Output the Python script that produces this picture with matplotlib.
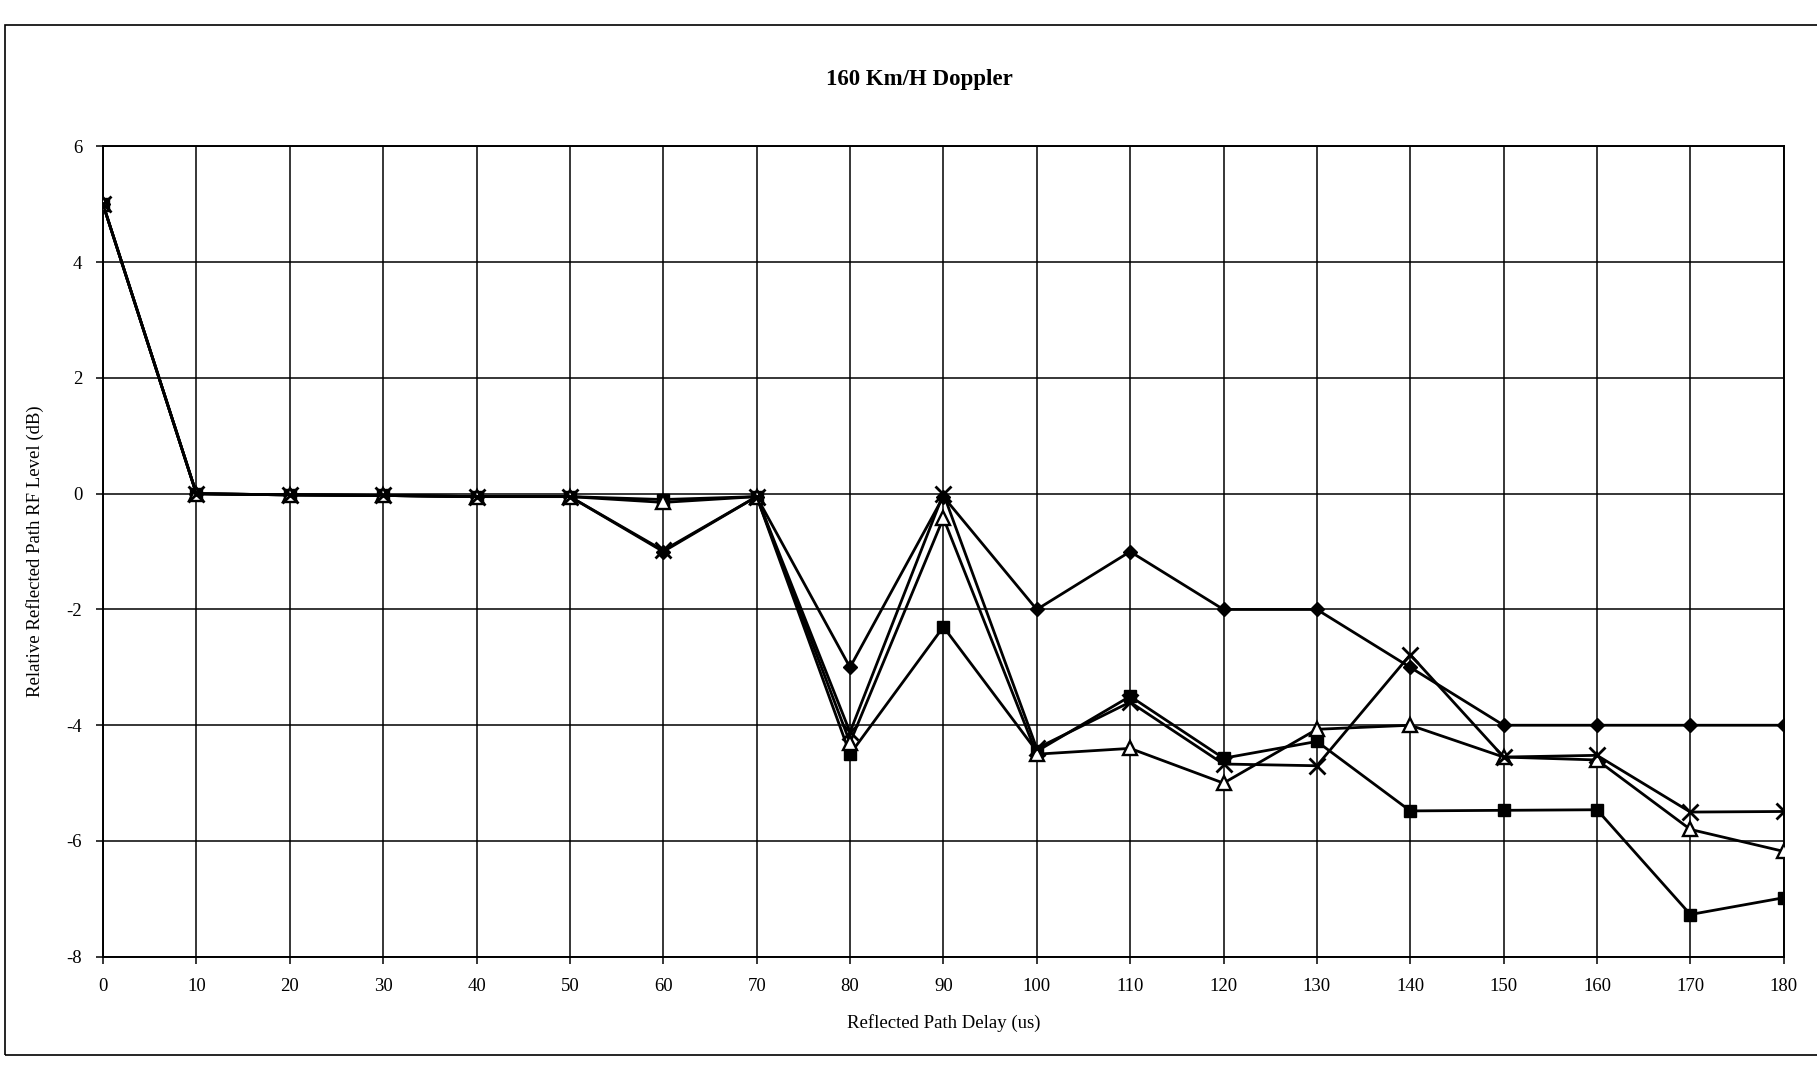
from matplotlib import pyplot as plt
from matplotlib.patches import Rectangle
import numpy as np

#%% Data

delay_us = [0, 10, 20, 30, 40, 50, 60, 70, 80, 90, 100, 110, 120, 130, 140, 150, 160, 170, 180]

level_diamond = [5.0, 0.0, -0.02, -0.03, -0.05, -0.05, -1.0, -0.05, -3.0, -0.05,
                 -2.0, -1.0, -2.0, -2.0, -3.0, -4.0, -4.0, -4.0, -4.0]
level_square = [5.0, 0.0, -0.02, -0.03, -0.05, -0.05, -0.1, -0.05, -4.5, -2.3,
                -4.45, -3.5, -4.57, -4.28, -5.48, -5.47, -5.46, -7.27, -6.98]
level_triangle = [5.0, 0.0, -0.02, -0.03, -0.05, -0.05, -0.15, -0.05, -4.3, -0.42,
                  -4.5, -4.4, -5.0, -4.07, -4.0, -4.55, -4.6, -5.8, -6.18]
level_cross = [5.0, 0.0, -0.02, -0.03, -0.05, -0.05, -0.98, -0.05, -4.12, 0.0,
               -4.4, -3.6, -4.67, -4.7, -2.78, -4.55, -4.52, -5.5, -5.49]

x_ticks = np.arange(0, 181, 10)
y_ticks = np.arange(-8, 7, 2)

#%% Figure

plt.rcParams['font.family'] = ['Liberation Serif', 'DejaVu Serif']
plt.rcParams['axes.unicode_minus'] = False

fig = plt.figure(figsize=(18.17, 10.69), dpi=100)
ax = fig.add_axes([0.0567, 0.105, 0.925, 0.758])

# chart area border of the scanned Excel chart
fig.patches.append(Rectangle((0.003, 0.013), 1.2, 0.964, transform=fig.transFigure,
                             fill=False, edgecolor='black', linewidth=1.2))

lw = 2.0
ax.plot(delay_us, level_diamond, color='black', lw=lw, marker='D', ms=7.5,
        mfc='black', mec='black', zorder=4)
ax.plot(delay_us, level_square, color='black', lw=lw, marker='s', ms=9,
        mfc='black', mec='black', zorder=4)
ax.plot(delay_us, level_triangle, color='black', lw=lw, marker='^', ms=10,
        mfc='white', mec='black', mew=1.7, zorder=5)
ax.plot(delay_us, level_cross, color='black', lw=lw, marker='x', ms=11,
        mec='black', mew=2.0, zorder=5)

ax.set_xlim(0, 180)
ax.set_ylim(-8, 6)
ax.set_xticks(x_ticks)
ax.set_yticks(y_ticks)
ax.grid(True, color='black', linewidth=1.1)
ax.set_axisbelow(True)
for s in ax.spines.values():
    s.set_linewidth(1.4)
    s.set_color('black')
ax.tick_params(direction='out', length=5, width=1.1, labelsize=13.5, pad=10)

ax.set_xlabel('Reflected Path Delay (us)', fontsize=13.5, labelpad=14)
ax.set_ylabel('Relative Reflected Path RF Level (dB)', fontsize=13.5, labelpad=16)
fig.text(0.506, 0.926, '160 Km/H Doppler', fontsize=16.5, fontweight='bold',
         ha='center', va='center')

plt.savefig('out.png', dpi=100)
